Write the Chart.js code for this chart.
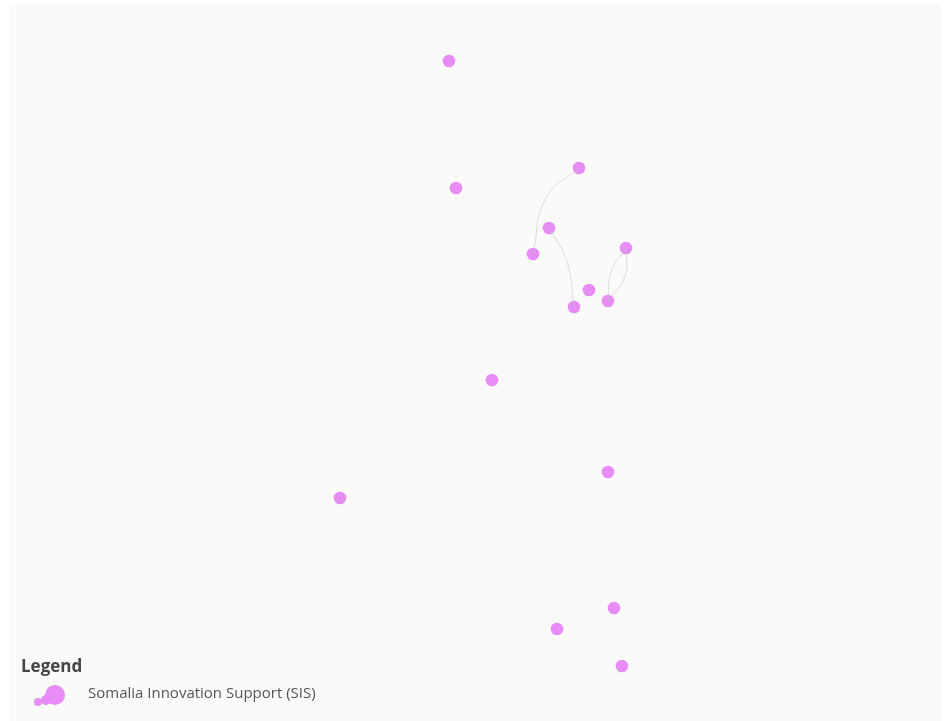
<!DOCTYPE html>
<html>
<head>
<meta charset="utf-8">
<script src="https://cdn.jsdelivr.net/npm/chart.js@4.4.1/dist/chart.umd.min.js"></script>
<style>
  html, body { margin: 0; padding: 0; background: #ffffff; }
  #wrap { width: 948px; height: 721px; position: relative; }
</style>
</head>
<body>
<div id="wrap"><canvas id="chart"></canvas></div>
<script>
// node positions of the SIS organisations (layout coordinates)
var nodeX = [449, 579, 456, 549, 626, 533, 589, 608, 574, 492, 608, 340, 614, 557, 622];
var nodeY = [61, 168, 188, 228, 248, 254, 290, 301, 307, 380, 472, 498, 608, 629, 666];

// links between nodes: [from, to] plus a bend point
var edgeFrom = [1, 3, 4, 4];
var edgeTo   = [5, 8, 7, 7];
var bendX    = [546, 567, 611, 625];
var bendY    = [198, 262, 272, 276];

var legendTitle = "Legend";
var seriesName = "Somalia Innovation Support (SIS)";
var nodeColor = "#e78cf5";

var datasets = [];
for (var i = 0; i < edgeFrom.length; i++) {
  var a = edgeFrom[i], b = edgeTo[i];
  datasets.push({
    type: "line",
    data: [
      {x: nodeX[a], y: nodeY[a]},
      {x: bendX[i], y: bendY[i]},
      {x: nodeX[b], y: nodeY[b]}
    ],
    borderColor: "rgba(190,190,190,0.5)",
    borderWidth: 1,
    tension: 0.5,
    pointRadius: 0,
    fill: false
  });
}
datasets.push({
  type: "scatter",
  label: seriesName,
  data: nodeX.map(function (x, i) { return {x: x, y: nodeY[i]}; }),
  backgroundColor: nodeColor,
  borderWidth: 0,
  pointRadius: 6.3,
  pointHoverRadius: 6.3
});

var backdrop = {
  id: "backdrop",
  beforeDraw: function (chart) {
    var c = chart.ctx;
    c.save();
    c.fillStyle = "#fafaf9";
    c.fillRect(9, 4, 932, 717);
    c.restore();
  },
  afterDraw: function (chart) {
    var c = chart.ctx;
    c.save();
    c.fillStyle = "#444444";
    c.font = "bold 17px 'Open Sans', sans-serif";
    c.textBaseline = "alphabetic";
    c.fillText(legendTitle, 21, 672);
    // bubble size icon
    c.fillStyle = nodeColor;
    [[55, 695, 10], [46, 700, 5], [38, 702, 4]].forEach(function (s) {
      c.beginPath();
      c.arc(s[0], s[1], s[2], 0, Math.PI * 2);
      c.fill();
    });
    c.fillStyle = "#555555";
    c.font = "15px 'Open Sans', sans-serif";
    c.textBaseline = "middle";
    c.fillText(seriesName, 88, 694);
    c.restore();
  }
};

new Chart(document.getElementById("chart"), {
  type: "scatter",
  data: {datasets: datasets},
  options: {
    responsive: true,
    maintainAspectRatio: false,
    animation: false,
    layout: {padding: 0, autoPadding: false},
    plugins: {
      legend: {display: false},
      tooltip: {enabled: false}
    },
    scales: {
      x: {type: "linear", min: 0, max: 948, display: false},
      y: {type: "linear", min: 0, max: 721, reverse: true, display: false}
    }
  },
  plugins: [backdrop]
});
</script>
</body>
</html>
